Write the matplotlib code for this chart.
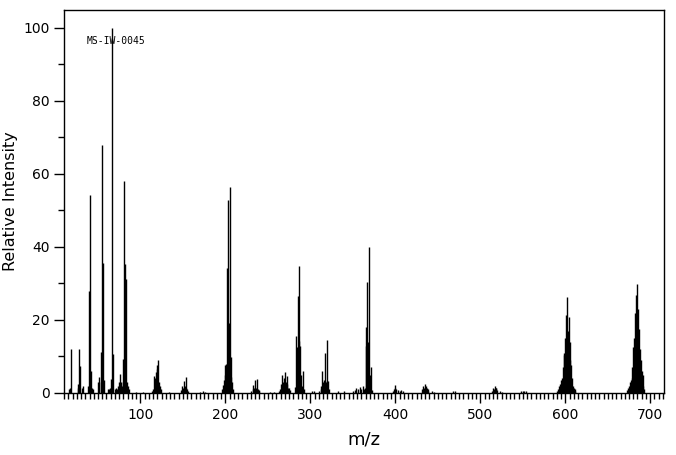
import matplotlib
matplotlib.use("Agg")
import matplotlib.pyplot as plt
from matplotlib.ticker import MultipleLocator

# m/z values and relative intensities
mz = [16, 17, 18, 26, 27, 28, 29, 31, 32,
      38, 39, 40, 41, 42, 43, 44,
      50, 51, 53, 54, 55, 56, 57,
      62, 63, 64, 65, 66, 67, 68,
      70, 71, 72, 74, 75, 76, 77, 78, 79, 80, 81, 82, 83, 84, 85, 86,
      95, 103,
      114, 115, 116, 117, 118, 119, 120, 121, 122, 123, 124,
      134,
      148, 149, 150, 151, 152, 153, 154, 155, 156,
      170, 174, 176,
      196, 197, 198, 199, 200, 201, 202, 203, 204, 205, 206, 207, 208, 209,
      230, 232, 233, 234, 235, 236, 237, 238, 239, 240,
      252, 257,
      263, 264, 265, 266, 267, 268, 269, 270, 271, 272, 273, 274, 275, 276,
      282, 283, 284, 285, 286, 287, 288, 289, 290, 291, 292,
      302, 304,
      310, 312, 313, 314, 315, 316, 317, 318, 319, 320, 321, 322,
      333, 340,
      350, 352, 354, 356, 358, 360, 362, 363, 364, 365, 366, 367, 368, 369, 370, 371, 372,
      397, 398, 399, 400, 401, 403, 405, 407, 409,
      431, 433, 434, 435, 436, 437, 438, 439, 443, 446,
      468, 470,
      514, 515, 516, 517, 518, 519, 520, 523, 526,
      548, 550, 552, 554,
      590, 592, 593, 594, 595, 596, 597, 598, 599, 600, 601, 602, 603, 604, 605, 606,
      607, 608, 609, 610, 611, 612,
      673, 674, 675, 676, 677, 678, 679, 680, 681, 682, 683, 684, 685, 686, 687, 688,
      689, 690, 691, 692, 693]

intensity = [1.0, 1.5, 12.0, 1.5, 2.5, 12.0, 7.5, 1.5, 2.0,
             2.0, 27.8, 4.5, 54.2, 6.0, 1.5, 1.0,
             3.0, 4.5, 3.0, 11.3, 67.9, 35.5, 3.5,
             1.0, 1.0, 1.5, 3.7, 3.0, 100.0, 10.7,
             1.0, 1.5, 1.0, 2.0, 3.0, 5.2, 3.0, 2.0, 9.3, 3.0, 58.0, 35.3, 31.1, 3.0, 2.0, 1.0,
             0.4, 0.4,
             0.5, 1.0, 4.7, 4.0, 5.8, 7.6, 6.5, 9.0, 3.0, 2.0, 1.0,
             0.4,
             0.8, 1.9, 1.5, 3.4, 2.0, 4.5, 1.5, 1.0, 0.5,
             0.4, 0.5, 0.4,
             1.0, 2.2, 3.5, 7.7, 5.0, 8.0, 34.2, 52.9, 19.1, 56.3, 4.4, 9.8, 3.0, 1.0,
             0.5, 1.0, 2.2, 1.5, 3.6, 1.5, 3.7, 1.0, 0.8, 0.5,
             0.4, 0.4,
             0.5, 1.0, 2.4, 2.0, 4.9, 3.0, 4.0, 5.8, 3.0, 4.6, 2.5, 1.3, 1.5, 0.8,
             1.7, 15.6, 12.6, 26.6, 14.3, 34.8, 13.0, 4.9, 2.0, 6.1, 1.0,
             0.5, 0.5,
             0.5, 1.0, 2.0, 6.1, 3.0, 3.5, 10.9, 3.0, 14.5, 3.2, 3.2, 1.0,
             0.5, 0.5,
             0.5, 0.7, 1.3, 1.0, 1.6, 1.0, 2.0, 1.0, 1.5, 18.2, 12.9, 30.5, 14.0, 40.0, 5.0, 7.2, 0.7,
             0.5, 1.1, 1.5, 2.2, 1.0, 0.7, 0.6, 0.7, 0.6,
             1.0, 1.8, 1.4, 2.5, 1.8, 1.5, 1.0, 0.5, 0.5, 0.4,
             0.5, 0.5,
             0.5, 1.4, 1.2, 1.9, 1.5, 1.4, 0.8, 0.5, 0.3,
             0.5, 0.5, 0.5, 0.5,
             0.5, 1.0, 2.0, 2.5, 3.5, 4.0, 7.0, 10.4, 11.0, 15.0, 21.4, 26.2, 17.0, 20.7, 14.0, 8.9,
             7.6, 4.0, 2.0, 1.5, 1.0, 0.5,
             0.8, 1.5, 2.0, 3.0, 3.5, 4.0, 7.0, 12.7, 15.0, 21.8, 26.8, 20.0, 29.9, 23.0, 17.5, 12.0,
             9.0, 6.0, 5.0, 2.0, 1.0]

x_ticks = [100, 200, 300, 400, 500, 600, 700]
y_ticks = [0, 20, 40, 60, 80, 100]
sample_id = "MS-IW-0045"

fig = plt.figure(figsize=(6.76, 4.55), dpi=100)
ax = fig.add_axes([0.0947, 0.1363, 0.8873, 0.8427])

ax.vlines(mz, 0, intensity, colors="black", linewidth=1.0)

ax.set_xlim(10, 716)
ax.set_ylim(0, 105)
ax.set_xticks(x_ticks)
ax.set_yticks(y_ticks)
ax.xaxis.set_minor_locator(MultipleLocator(5))
ax.yaxis.set_minor_locator(MultipleLocator(10))
ax.tick_params(axis="both", which="major", length=7, width=1, labelsize=10, color="black")
ax.tick_params(axis="both", which="minor", length=4, width=1)
ax.tick_params(axis="x", pad=4)

for s in ax.spines.values():
    s.set_linewidth(1.0)

ax.set_xlabel("m/z", fontsize=13, labelpad=6)
ax.set_ylabel("Relative Intensity", fontsize=11.5, labelpad=4)

ax.text(0.037, 0.918, sample_id, transform=ax.transAxes, fontsize=7,
        family="DejaVu Sans Mono", va="center", ha="left")

fig.savefig("out.png", dpi=100)
